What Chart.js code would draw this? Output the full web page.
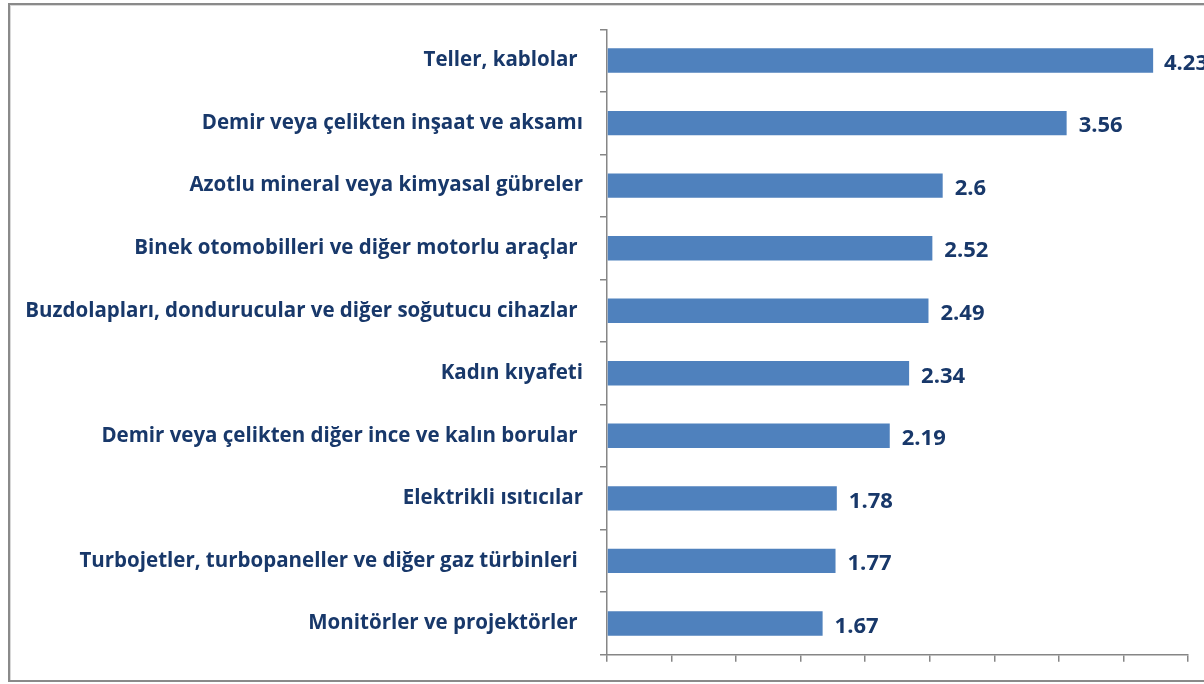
<!DOCTYPE html>
<html>
<head>
<meta charset="utf-8">
<script src="https://cdn.jsdelivr.net/npm/chart.js@4/dist/chart.umd.min.js"></script>
<style>
  html, body { margin: 0; padding: 0; background: #fff; }
  #wrap { position: relative; width: 1204px; height: 684px; overflow: hidden; }
  #frame { position: absolute; left: 8px; top: 3px; width: 1300px; height: 675px; border: 2px solid #8a8a8a; box-shadow: inset 1px 1px 0 #d8d8d8; }
  canvas { position: absolute; left: 0; top: 0; }
</style>
</head>
<body>
<div id="wrap">
  <div id="frame"></div>
  <canvas id="c" width="1204" height="684"></canvas>
</div>
<script>
const categories = [
  "Teller, kablolar ",
  "Demir veya çelikten inşaat ve aksamı",
  "Azotlu mineral veya kimyasal gübreler",
  "Binek otomobilleri ve diğer motorlu araçlar ",
  "Buzdolapları, dondurucular ve diğer soğutucu cihazlar ",
  "Kadın kıyafeti",
  "Demir veya çelikten diğer ince ve kalın borular ",
  "Elektrikli ısıtıcılar",
  "Turbojetler, turbopaneller ve diğer gaz türbinleri ",
  "Monitörler ve projektörler "
];
const values = [4.23, 3.56, 2.6, 2.52, 2.49, 2.34, 2.19, 1.78, 1.77, 1.67];
const valueLabels = ["4.23", "3.56", "2.6", "2.52", "2.49", "2.34", "2.19", "1.78", "1.77", "1.67"];

const textColor = "#18386A";
const axisColor = "#868686";

const valueLabelPlugin = {
  id: "valueLabels",
  afterDatasetsDraw(chart) {
    const ctx = chart.ctx;
    const meta = chart.getDatasetMeta(0);
    ctx.save();
    ctx.font = "bold 22px 'Open Sans'";
    ctx.fillStyle = textColor;
    ctx.textBaseline = "middle";
    ctx.textAlign = "left";
    meta.data.forEach((bar, i) => {
      const txt = valueLabels[i];
      const w = ctx.measureText(txt).width;
      let x = bar.x + 12;
      if (x + w > chart.width + 4) x = chart.width + 4 - w;
      ctx.fillText(txt, x, bar.y + 3);
    });
    ctx.restore();
  }
};

new Chart(document.getElementById("c"), {
  type: "bar",
  data: {
    labels: categories,
    datasets: [{
      data: values,
      backgroundColor: "#4F81BD",
      borderWidth: 0,
      categoryPercentage: 1,
      barPercentage: 0.39
    }]
  },
  options: {
    indexAxis: "y",
    responsive: false,
    animation: false,
    devicePixelRatio: 1,
    layout: { padding: { top: 29, right: 16, left: 0, bottom: 0 } },
    plugins: { legend: { display: false }, tooltip: { enabled: false } },
    scales: {
      x: {
        min: 0, max: 4.5,
        ticks: { display: false, stepSize: 0.5 },
        grid: { drawOnChartArea: false, drawTicks: true, tickLength: 7, color: axisColor, lineWidth: 1.5 },
        border: { color: axisColor, width: 1.5 },
        afterFit(s) { s.height = 24; }
      },
      y: {
        ticks: { color: textColor, font: { family: "'Open Sans'", weight: "bold", size: 20.5 }, padding: 17 },
        grid: { drawOnChartArea: false, drawTicks: true, tickLength: 7, color: axisColor, lineWidth: 1.5, offset: true },
        border: { color: axisColor, width: 1.5 },
        afterFit(s) { s.width = 607; }
      }
    }
  },
  plugins: [valueLabelPlugin]
});
</script>
</body>
</html>
